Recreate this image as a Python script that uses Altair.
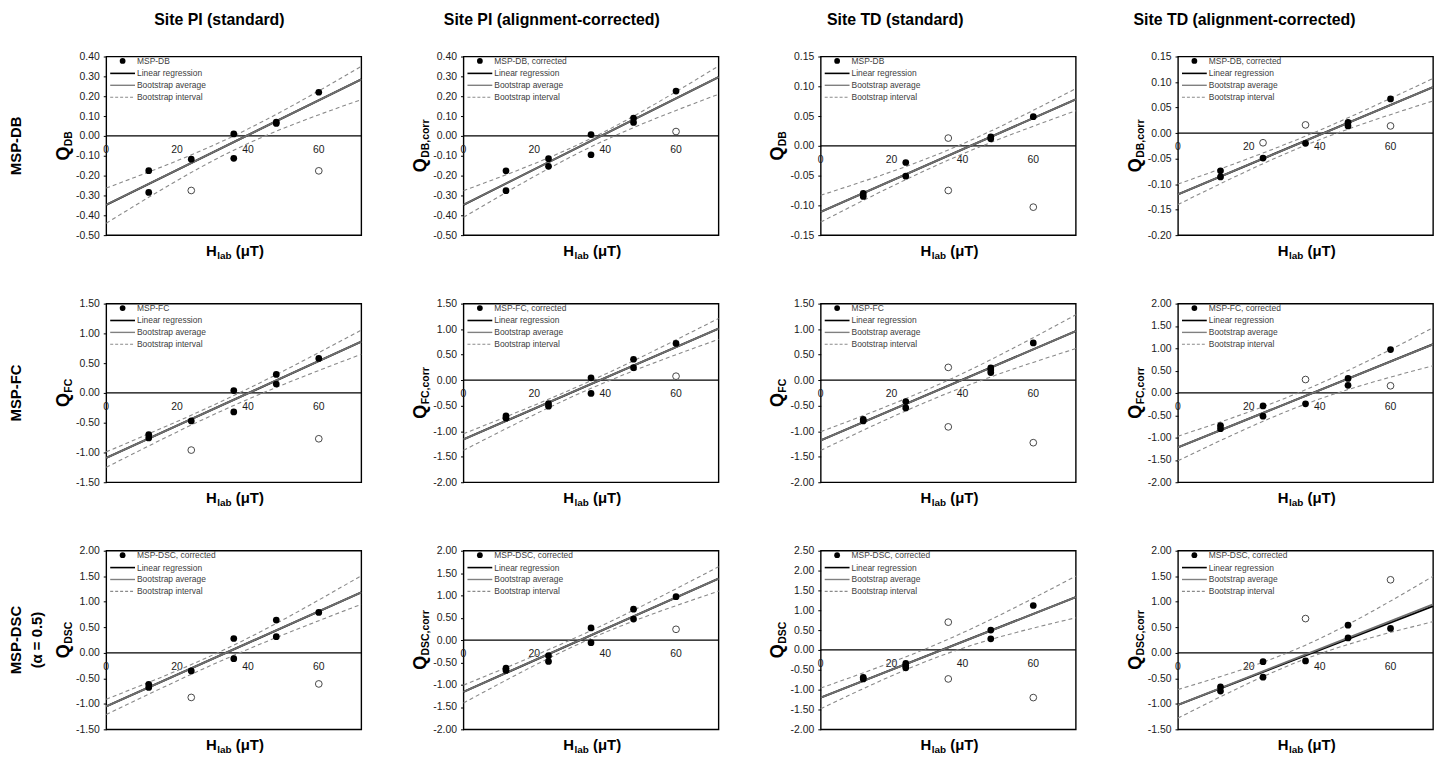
import altair as alt
import pandas as pd

# ---------------- data ----------------
X_TICKS = [0, 20, 40, 60]
LINE_X = [0, 72]          # regression / bootstrap-average end points
BAND_X = [0, 36, 72]      # bootstrap interval read points

COL_TITLES = ["Site PI (standard)", "Site PI (alignment-corrected)",
              "Site TD (standard)", "Site TD (alignment-corrected)"]
ROW_LABELS = [["MSP-DB"], ["MSP-FC"], ["MSP-DSC", "(α = 0.5)"]]

YT_DB_PI = [-0.50, -0.40, -0.30, -0.20, -0.10, 0.00, 0.10, 0.20, 0.30, 0.40]
YT_DB_TD_STD = [-0.15, -0.10, -0.05, 0.00, 0.05, 0.10, 0.15]
YT_DB_TD_COR = [-0.20, -0.15, -0.10, -0.05, 0.00, 0.05, 0.10, 0.15]
YT_M15_15 = [-1.5, -1.0, -0.5, 0.0, 0.5, 1.0, 1.5]
YT_M2_15 = [-2.0, -1.5, -1.0, -0.5, 0.0, 0.5, 1.0, 1.5]
YT_M2_2 = [-2.0, -1.5, -1.0, -0.5, 0.0, 0.5, 1.0, 1.5, 2.0]
YT_M15_2 = [-1.5, -1.0, -0.5, 0.0, 0.5, 1.0, 1.5, 2.0]
YT_M2_25 = [-2.0, -1.5, -1.0, -0.5, 0.0, 0.5, 1.0, 1.5, 2.0, 2.5]

# Row 1: MSP-DB
DB_PI_STD_FILLED = [(12, -0.175), (12, -0.285), (24, -0.117), (36, 0.010), (36, -0.113),
                    (48, 0.070), (48, 0.063), (60, 0.220)]
DB_PI_STD_OPEN = [(24, -0.275), (60, -0.176)]
DB_PI_STD_REG = [-0.347, 0.285]
DB_PI_STD_AVG = [-0.347, 0.285]
DB_PI_STD_UP = [-0.263, 0.000, 0.350]
DB_PI_STD_LO = [-0.440, -0.072, 0.183]

DB_PI_COR_FILLED = [(12, -0.176), (12, -0.276), (24, -0.115), (24, -0.153), (36, 0.007),
                    (36, -0.095), (48, 0.090), (48, 0.068), (60, 0.226)]
DB_PI_COR_OPEN = [(60, 0.022)]
DB_PI_COR_REG = [-0.347, 0.296]
DB_PI_COR_AVG = [-0.347, 0.296]
DB_PI_COR_UP = [-0.276, -0.013, 0.352]
DB_PI_COR_LO = [-0.410, -0.055, 0.210]

DB_TD_STD_FILLED = [(12, -0.080), (12, -0.085), (24, -0.028), (24, -0.051), (48, 0.015),
                    (48, 0.012), (60, 0.049)]
DB_TD_STD_OPEN = [(36, 0.013), (36, -0.075), (60, -0.103)]
DB_TD_STD_REG = [-0.111, 0.078]
DB_TD_STD_AVG = [-0.111, 0.078]
DB_TD_STD_UP = [-0.083, -0.007, 0.096]
DB_TD_STD_LO = [-0.128, -0.024, 0.059]

DB_TD_COR_FILLED = [(12, -0.074), (12, -0.086), (24, -0.049), (36, -0.020), (48, 0.021),
                    (48, 0.014), (60, 0.067)]
DB_TD_COR_OPEN = [(24, -0.019), (36, 0.016), (60, 0.014)]
DB_TD_COR_REG = [-0.120, 0.090]
DB_TD_COR_AVG = [-0.120, 0.090]
DB_TD_COR_UP = [-0.100, -0.006, 0.107]
DB_TD_COR_LO = [-0.140, -0.024, 0.063]

# Row 2: MSP-FC
FC_PI_STD_FILLED = [(12, -0.70), (12, -0.755), (24, -0.47), (36, 0.04), (36, -0.32),
                    (48, 0.31), (48, 0.15), (60, 0.58)]
FC_PI_STD_OPEN = [(24, -0.96), (60, -0.77)]
FC_PI_STD_REG = [-1.09, 0.86]
FC_PI_STD_AVG = [-1.09, 0.86]
FC_PI_STD_UP = [-0.99, -0.045, 1.055]
FC_PI_STD_LO = [-1.25, -0.21, 0.65]

FC_PI_COR_FILLED = [(12, -0.70), (12, -0.745), (24, -0.46), (24, -0.51), (36, 0.045),
                    (36, -0.26), (48, 0.41), (48, 0.245), (60, 0.72)]
FC_PI_COR_OPEN = [(60, 0.078)]
FC_PI_COR_REG = [-1.16, 1.01]
FC_PI_COR_AVG = [-1.16, 1.01]
FC_PI_COR_UP = [-1.05, -0.01, 1.21]
FC_PI_COR_LO = [-1.375, -0.16, 0.80]

FC_TD_STD_FILLED = [(12, -0.77), (12, -0.80), (24, -0.42), (24, -0.545), (48, 0.24),
                    (48, 0.20), (48, 0.15), (60, 0.73)]
FC_TD_STD_OPEN = [(36, 0.25), (36, -0.915), (60, -1.225)]
FC_TD_STD_REG = [-1.18, 0.96]
FC_TD_STD_AVG = [-1.18, 0.96]
FC_TD_STD_UP = [-1.01, 0.0, 1.28]
FC_TD_STD_LO = [-1.375, -0.25, 0.62]

FC_TD_COR_FILLED = [(12, -0.73), (12, -0.80), (24, -0.29), (24, -0.52), (36, -0.245),
                    (48, 0.325), (48, 0.17), (60, 0.97)]
FC_TD_COR_OPEN = [(36, 0.30), (60, 0.16)]
FC_TD_COR_REG = [-1.22, 1.09]
FC_TD_COR_AVG = [-1.22, 1.09]
FC_TD_COR_UP = [-0.97, 0.07, 1.46]
FC_TD_COR_LO = [-1.52, -0.25, 0.61]

# Row 3: MSP-DSC (alpha = 0.5)
DSC_PI_STD_FILLED = [(12, -0.62), (12, -0.68), (24, -0.355), (36, 0.28), (36, -0.115),
                     (48, 0.64), (48, 0.315), (60, 0.79)]
DSC_PI_STD_OPEN = [(24, -0.875), (60, -0.61)]
DSC_PI_STD_REG = [-1.05, 1.185]
DSC_PI_STD_AVG = [-1.05, 1.185]
DSC_PI_STD_UP = [-0.91, 0.15, 1.51]
DSC_PI_STD_LO = [-1.21, -0.05, 0.95]

DSC_PI_COR_FILLED = [(12, -0.63), (12, -0.68), (24, -0.35), (24, -0.48), (36, 0.27),
                     (36, -0.06), (48, 0.69), (48, 0.47), (60, 0.97)]
DSC_PI_COR_OPEN = [(60, 0.24)]
DSC_PI_COR_REG = [-1.16, 1.375]
DSC_PI_COR_AVG = [-1.16, 1.375]
DSC_PI_COR_UP = [-1.01, 0.21, 1.64]
DSC_PI_COR_LO = [-1.41, 0.035, 1.095]

DSC_TD_STD_FILLED = [(12, -0.69), (12, -0.73), (24, -0.34), (24, -0.40), (24, -0.45),
                     (48, 0.50), (48, 0.28), (60, 1.12)]
DSC_TD_STD_OPEN = [(36, 0.70), (36, -0.73), (60, -1.20)]
DSC_TD_STD_REG = [-1.20, 1.33]
DSC_TD_STD_AVG = [-1.20, 1.33]
DSC_TD_STD_UP = [-0.96, 0.27, 1.86]
DSC_TD_STD_LO = [-1.48, -0.08, 0.81]

DSC_TD_COR_FILLED = [(12, -0.67), (12, -0.75), (24, -0.175), (24, -0.477), (36, -0.16),
                     (48, 0.54), (48, 0.29), (60, 0.477)]
DSC_TD_COR_OPEN = [(36, 0.67), (60, 1.43)]
DSC_TD_COR_REG = [-1.02, 0.915]
DSC_TD_COR_AVG = [-1.02, 0.95]
DSC_TD_COR_UP = [-0.72, 0.15, 1.50]
DSC_TD_COR_LO = [-1.28, -0.12, 0.61]


def P(label, sub, yt, filled, opn, reg, avg, up, lo):
    return dict(label=label, sub=sub, yticks=yt, filled=filled, open=opn,
                reg=reg, avg=avg, up=up, lo=lo)


PANELS = [
    P("MSP-DB", "DB", YT_DB_PI, DB_PI_STD_FILLED, DB_PI_STD_OPEN, DB_PI_STD_REG, DB_PI_STD_AVG, DB_PI_STD_UP, DB_PI_STD_LO),
    P("MSP-DB, corrected", "DB,corr", YT_DB_PI, DB_PI_COR_FILLED, DB_PI_COR_OPEN, DB_PI_COR_REG, DB_PI_COR_AVG, DB_PI_COR_UP, DB_PI_COR_LO),
    P("MSP-DB", "DB", YT_DB_TD_STD, DB_TD_STD_FILLED, DB_TD_STD_OPEN, DB_TD_STD_REG, DB_TD_STD_AVG, DB_TD_STD_UP, DB_TD_STD_LO),
    P("MSP-DB, corrected", "DB,corr", YT_DB_TD_COR, DB_TD_COR_FILLED, DB_TD_COR_OPEN, DB_TD_COR_REG, DB_TD_COR_AVG, DB_TD_COR_UP, DB_TD_COR_LO),
    P("MSP-FC", "FC", YT_M15_15, FC_PI_STD_FILLED, FC_PI_STD_OPEN, FC_PI_STD_REG, FC_PI_STD_AVG, FC_PI_STD_UP, FC_PI_STD_LO),
    P("MSP-FC, corrected", "FC,corr", YT_M2_15, FC_PI_COR_FILLED, FC_PI_COR_OPEN, FC_PI_COR_REG, FC_PI_COR_AVG, FC_PI_COR_UP, FC_PI_COR_LO),
    P("MSP-FC", "FC", YT_M2_15, FC_TD_STD_FILLED, FC_TD_STD_OPEN, FC_TD_STD_REG, FC_TD_STD_AVG, FC_TD_STD_UP, FC_TD_STD_LO),
    P("MSP-FC, corrected", "FC,corr", YT_M2_2, FC_TD_COR_FILLED, FC_TD_COR_OPEN, FC_TD_COR_REG, FC_TD_COR_AVG, FC_TD_COR_UP, FC_TD_COR_LO),
    P("MSP-DSC, corrected", "DSC", YT_M15_2, DSC_PI_STD_FILLED, DSC_PI_STD_OPEN, DSC_PI_STD_REG, DSC_PI_STD_AVG, DSC_PI_STD_UP, DSC_PI_STD_LO),
    P("MSP-DSC, corrected", "DSC,corr", YT_M2_2, DSC_PI_COR_FILLED, DSC_PI_COR_OPEN, DSC_PI_COR_REG, DSC_PI_COR_AVG, DSC_PI_COR_UP, DSC_PI_COR_LO),
    P("MSP-DSC, corrected", "DSC", YT_M2_25, DSC_TD_STD_FILLED, DSC_TD_STD_OPEN, DSC_TD_STD_REG, DSC_TD_STD_AVG, DSC_TD_STD_UP, DSC_TD_STD_LO),
    P("MSP-DSC, corrected", "DSC,corr", YT_M15_2, DSC_TD_COR_FILLED, DSC_TD_COR_OPEN, DSC_TD_COR_REG, DSC_TD_COR_AVG, DSC_TD_COR_UP, DSC_TD_COR_LO),
]

# ---------------- layout / style ----------------
W, H = 257, 180
COL_SP, ROW_SP = 103, 69
FONT = "Arial, Liberation Sans, sans-serif"
LEG_FONT = "Liberation Sans, Arial, sans-serif"
COL_TITLE_X = [114, 89, 75, 67]
LABEL_EXPR = "replace(format(datum.value, '.2f'), '\u2212', '-')"
DUMMY = pd.DataFrame({"k": [0]})

BOLD_W = {"Q": 778, "D": 722, "B": 722, "F": 611, "C": 722, "S": 667, ",": 278, "c": 556,
          "o": 611, "r": 389, "H": 722, "l": 278, "a": 556, "b": 611, " ": 278, "(": 333,
          ")": 333, "μ": 611, "T": 611}


def tw(s, fs):
    return sum(BOLD_W.get(ch, 600) for ch in s) * fs / 1000.0


def txt(text, x, y, **kw):
    return alt.Chart(DUMMY).mark_text(text=text, font=kw.pop("font", FONT), **kw).encode(
        x=alt.value(x), y=alt.value(y))


def hline(x1, x2, y, **kw):
    return alt.Chart(DUMMY).mark_rule(**kw).encode(x=alt.value(x1), x2=alt.value(x2), y=alt.value(y))


def make_panel(r, c, p):
    yt = p["yticks"]
    xsc = alt.Scale(domain=[0, 72], nice=False, zero=False)
    ysc = alt.Scale(domain=[yt[0], yt[-1]], nice=False, zero=False)
    yax = alt.Axis(values=yt, labelExpr=LABEL_EXPR, title=None, grid=False, domain=False,
                   ticks=True, tickSize=3, tickColor="black", labelPadding=4,
                   labelFont=FONT, labelFontSize=10.5, labelColor="#1a1a1a")

    def X():
        return alt.X("x:Q", scale=xsc, axis=None)

    def Y():
        return alt.Y("y:Q", scale=ysc, axis=yax)

    layers = []
    # zero line (horizontal axis)
    layers.append(alt.Chart(pd.DataFrame({"y": [0.0]})).mark_rule(color="black", strokeWidth=1.3)
                  .encode(y=Y()))
    # x tick labels below the zero line
    layers.append(alt.Chart(pd.DataFrame({"x": X_TICKS, "y": [0.0] * len(X_TICKS)}))
                  .mark_text(dy=14, font=FONT, fontSize=10.5, color="#1a1a1a")
                  .encode(x=X(), y=Y(), text=alt.Text("x:Q", format="d")))
    # bootstrap interval
    band = pd.DataFrame({"x": BAND_X + BAND_X, "y": p["up"] + p["lo"],
                         "s": ["up"] * len(BAND_X) + ["lo"] * len(BAND_X)})
    layers.append(alt.Chart(band).mark_line(color="#8a8a8a", strokeWidth=1.1, strokeDash=[4, 3],
                                            interpolate="monotone")
                  .encode(x=X(), y=Y(), detail="s:N"))
    # linear regression
    layers.append(alt.Chart(pd.DataFrame({"x": LINE_X, "y": p["reg"]}))
                  .mark_line(color="black", strokeWidth=2.0).encode(x=X(), y=Y()))
    # bootstrap average
    layers.append(alt.Chart(pd.DataFrame({"x": LINE_X, "y": p["avg"]}))
                  .mark_line(color="#6f6f6f", strokeWidth=1.9).encode(x=X(), y=Y()))
    # excluded (open) points
    if p["open"]:
        layers.append(alt.Chart(pd.DataFrame(p["open"], columns=["x", "y"]))
                      .mark_point(shape="circle", filled=True, fill="white", stroke="#333333",
                                  strokeWidth=0.9, size=46, opacity=1)
                      .encode(x=X(), y=Y()))
    # used (filled) points
    layers.append(alt.Chart(pd.DataFrame(p["filled"], columns=["x", "y"]))
                  .mark_circle(color="black", size=46, opacity=1).encode(x=X(), y=Y()))

    # legend inside the panel
    layers.append(alt.Chart(DUMMY).mark_circle(color="black", size=34, opacity=1)
                  .encode(x=alt.value(16.5), y=alt.value(4.5)))
    layers.append(hline(4, 29, 17, color="black", strokeWidth=1.6))
    layers.append(hline(4, 29, 29, color="#808080", strokeWidth=1.4))
    layers.append(hline(4, 29, 41, color="#8a8a8a", strokeWidth=1.1, strokeDash=[3, 2]))
    for t, yy in zip([p["label"], "Linear regression", "Bootstrap average", "Bootstrap interval"],
                     [4.5, 17, 29, 41]):
        layers.append(txt(t, 31, yy, font=LEG_FONT, fontSize=8.5, color="#404040",
                          align="left", baseline="middle"))

    # y axis title Q_sub (rotated)
    qw = tw("Q", 18)
    sw = tw(p["sub"], 10.5)
    ys = H / 2 + (qw + sw + 0.5) / 2
    layers.append(txt("Q", -37.6, ys, fontSize=18, fontWeight="bold", angle=270,
                      align="left", baseline="alphabetic", color="black"))
    layers.append(txt(p["sub"], -34.6, ys - qw - 0.5, fontSize=10.5, fontWeight="bold", angle=270,
                      align="left", baseline="alphabetic", color="black"))

    # x axis title H_lab (uT)
    hw = tw("H", 15)
    lw = tw("lab", 10)
    uw = tw(" (μT)", 15)
    xs = W / 2 - (hw + lw + uw) / 2 + 1
    layers.append(txt("H", xs, H + 21, fontSize=15, fontWeight="bold", align="left",
                      baseline="alphabetic", color="black"))
    layers.append(txt("lab", xs + hw + 0.5, H + 24, fontSize=10, fontWeight="bold", align="left",
                      baseline="alphabetic", color="black"))
    layers.append(txt("(μT)", xs + hw + lw + tw(" ", 15) + 0.5, H + 21, fontSize=15,
                      fontWeight="bold", align="left", baseline="alphabetic", color="black"))

    # column titles
    if r == 0:
        layers.append(txt(COL_TITLES[c], COL_TITLE_X[c], -37, fontSize=16, fontWeight="bold",
                          align="center", baseline="middle", color="black"))
    # row labels
    if c == 0:
        lines = ROW_LABELS[r]
        xpos = [-91] if len(lines) == 1 else [-91, -70]
        for t, xx in zip(lines, xpos):
            layers.append(txt(t, xx, H / 2, fontSize=15, fontWeight="bold", angle=270,
                              align="center", baseline="middle", color="black"))

    return alt.layer(*layers).properties(width=W, height=H)


panels = [make_panel(i // 4, i % 4, p) for i, p in enumerate(PANELS)]

chart = (
    alt.concat(*panels, columns=4, spacing={"row": ROW_SP, "column": COL_SP}, bounds="flush")
    .properties(padding={"left": 0, "top": 0, "right": 0, "bottom": 0}, background="white")
    .configure_view(stroke="black", strokeWidth=1.4)
)

chart.save("out.html", embed_options={"renderer": "svg", "actions": False})
